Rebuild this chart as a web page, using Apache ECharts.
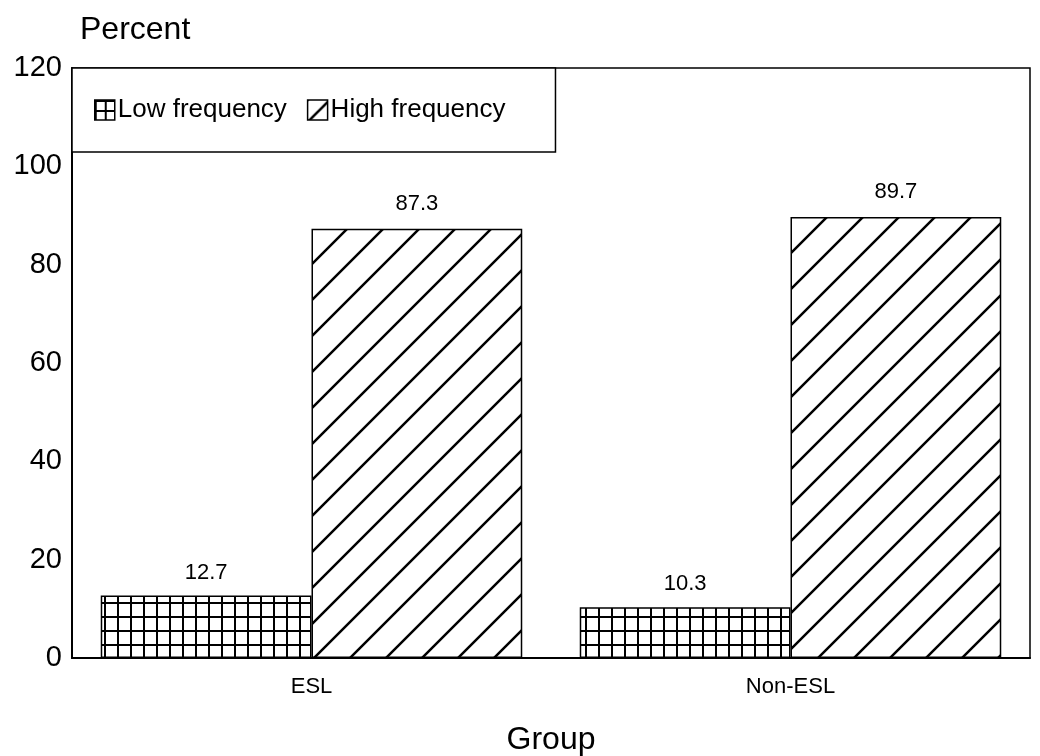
<!DOCTYPE html>
<html>
<head>
<meta charset="utf-8">
<script src="https://cdn.jsdelivr.net/npm/echarts@6/dist/echarts.min.js"></script>
<style>
  html, body { margin: 0; padding: 0; background: #fff; }
  #chart { width: 1040px; height: 756px; }
</style>
</head>
<body>
<div id="chart"></div>
<script>
const groups = ['ESL', 'Non-ESL'];
const lowFreq = [12.7, 10.3];
const highFreq = [87.3, 89.7];
const yTicks = [0, 20, 40, 60, 80, 100, 120];

// hatch fills like the printed chart
function gridPattern(w, h) {
  const c = document.createElement('canvas');
  c.width = w; c.height = h;
  const g = c.getContext('2d');
  g.fillStyle = '#fff';
  g.fillRect(0, 0, w, h);
  g.strokeStyle = '#000';
  g.lineWidth = 2;
  g.beginPath();
  g.moveTo(1, 0); g.lineTo(1, h);
  g.moveTo(0, 1); g.lineTo(w, 1);
  g.stroke();
  return c;
}

function diagPattern(s) {
  const c = document.createElement('canvas');
  c.width = s; c.height = s;
  const g = c.getContext('2d');
  g.fillStyle = '#fff';
  g.fillRect(0, 0, s, s);
  g.strokeStyle = '#000';
  g.lineWidth = 2.5;
  g.beginPath();
  g.moveTo(-2, s + 2); g.lineTo(s + 2, -2);
  g.moveTo(-2, 2); g.lineTo(2, -2);
  g.moveTo(s - 2, s + 2); g.lineTo(s + 2, s - 2);
  g.stroke();
  return c;
}

const chart = echarts.init(document.getElementById('chart'));

const font = 'Liberation Sans, Arial, sans-serif';

let option = {
  backgroundColor: '#fff',
  textStyle: { fontFamily: font, color: '#000' },
  grid: {
    left: 72, right: 10, top: 68, bottom: 98,
    show: true,
    borderColor: '#000',
    borderWidth: 1.5,
    containLabel: false,
    outerBoundsMode: 'none'
  },
  legend: {
    left: 72, top: 68,
    padding: [29, 50, 29, 22],
    backgroundColor: '#fff',
    borderColor: '#000',
    borderWidth: 1.5,
    itemWidth: 20,
    itemHeight: 20,
    itemGap: 20,
    textStyle: { fontSize: 26, color: '#000', fontFamily: font, padding: [0, 0, 0, -2] },
    data: [
      { name: 'Low frequency', icon: 'rect',
        itemStyle: { color: { image: gridPattern(10, 10), repeat: 'repeat' }, borderColor: '#000', borderWidth: 1.5 } },
      { name: 'High frequency', icon: 'rect',
        itemStyle: { color: { image: diagPattern(22), repeat: 'repeat' }, borderColor: '#000', borderWidth: 1.5 } }
    ]
  },
  xAxis: {
    type: 'category',
    data: groups,
    name: 'Group',
    nameLocation: 'middle',
    nameGap: 66,
    nameTextStyle: { fontSize: 32, color: '#000' },
    axisLine: { lineStyle: { color: '#000', width: 2 } },
    axisTick: { show: false },
    axisLabel: { fontSize: 22, color: '#000', margin: 18 }
  },
  yAxis: {
    type: 'value',
    min: 0,
    max: yTicks[yTicks.length - 1],
    interval: 20,
    name: 'Percent',
    nameGap: 22,
    nameTextStyle: { fontSize: 32, color: '#000', align: 'left', padding: [0, 0, 0, 8] },
    axisLine: { show: true, lineStyle: { color: '#000', width: 2 } },
    axisTick: { show: false },
    splitLine: { show: false },
    axisLabel: { fontSize: 29, color: '#000', margin: 10 }
  },
  series: [
    {
      name: 'Low frequency',
      type: 'bar',
      data: lowFreq,
      barWidth: '44%',
      barGap: '0%',
      itemStyle: {
        color: { image: gridPattern(13, 14), repeat: 'repeat' },
        borderColor: '#000',
        borderWidth: 1.5
      },
      label: { show: true, position: 'top', distance: 12, fontSize: 22, color: '#000' }
    },
    {
      name: 'High frequency',
      type: 'bar',
      data: highFreq,
      barWidth: '44%',
      itemStyle: {
        color: { image: diagPattern(36), repeat: 'repeat' },
        borderColor: '#000',
        borderWidth: 1.5
      },
      label: { show: true, position: 'top', distance: 14, fontSize: 22, color: '#000' }
    }
  ]
};

chart.setOption(option);
</script>
</body>
</html>
